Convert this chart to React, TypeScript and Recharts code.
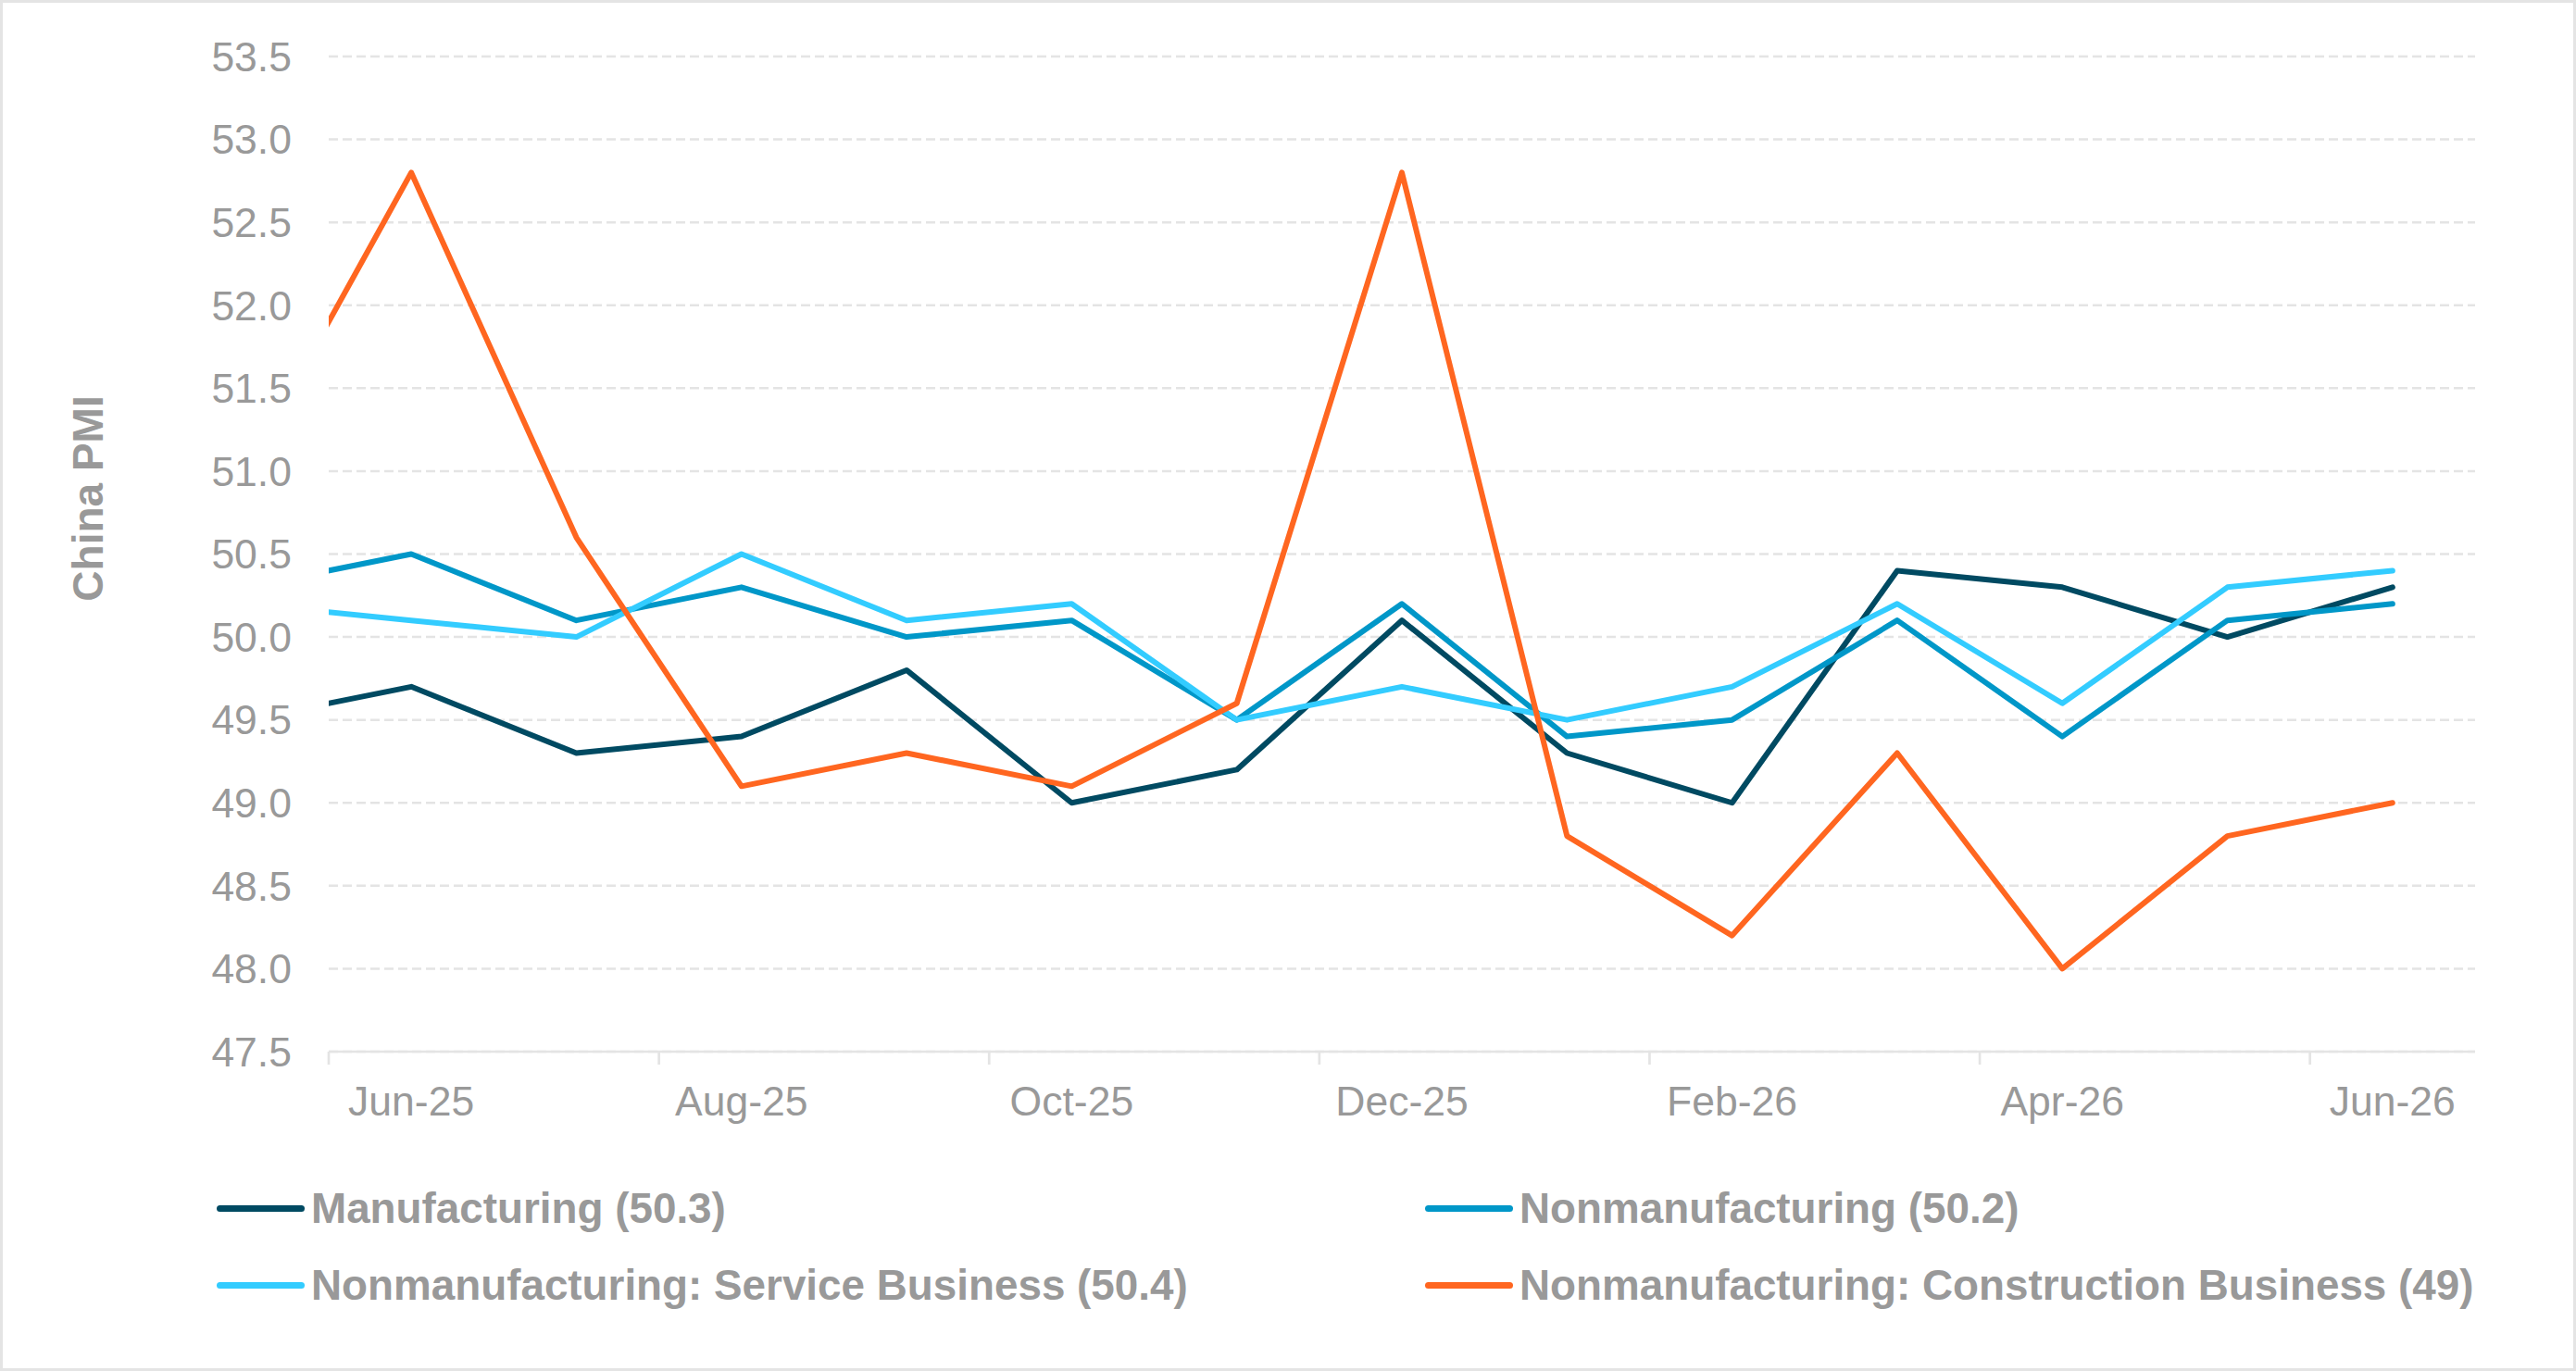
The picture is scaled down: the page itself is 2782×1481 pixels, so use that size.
import { LineChart, Line, XAxis, YAxis, CartesianGrid } from 'recharts';

// Monthly China PMI readings, May-25 .. Jun-26
const months = ['May-25', 'Jun-25', 'Jul-25', 'Aug-25', 'Sep-25', 'Oct-25', 'Nov-25', 'Dec-25', 'Jan-26', 'Feb-26', 'Mar-26', 'Apr-26', 'May-26', 'Jun-26'];
const manufacturing = [49.5, 49.7, 49.3, 49.4, 49.8, 49.0, 49.2, 50.1, 49.3, 49.0, 50.4, 50.3, 50.0, 50.3];
const nonmanufacturing = [50.3, 50.5, 50.1, 50.3, 50.0, 50.1, 49.5, 50.2, 49.4, 49.5, 50.1, 49.4, 50.1, 50.2];
const serviceBusiness = [50.2, 50.1, 50.0, 50.5, 50.1, 50.2, 49.5, 49.7, 49.5, 49.7, 50.2, 49.6, 50.3, 50.4];
const constructionBusiness = [51.0, 52.8, 50.6, 49.1, 49.3, 49.1, 49.6, 52.8, 48.8, 48.2, 49.3, 48.0, 48.8, 49.0];

const yTicks = [47.5, 48.0, 48.5, 49.0, 49.5, 50.0, 50.5, 51.0, 51.5, 52.0, 52.5, 53.0, 53.5];
// labels sit on every other month, tick marks on the boundaries between them
const labelTicks = [1, 3, 5, 7, 9, 11, 13];
const boundaryTicks = [0.5, 2.5, 4.5, 6.5, 8.5, 10.5, 12.5];

const series = [
  { key: 'mfg', name: 'Manufacturing', values: manufacturing, color: '#004A62' },
  { key: 'nonmfg', name: 'Nonmanufacturing', values: nonmanufacturing, color: '#0097C8' },
  { key: 'service', name: 'Nonmanufacturing: Service Business', values: serviceBusiness, color: '#33CCFF' },
  { key: 'construction', name: 'Nonmanufacturing: Construction Business', values: constructionBusiness, color: '#FF6620' },
];

const data = months.map((month, i) => {
  const row: Record<string, number | string> = { i, month };
  series.forEach((s) => { row[s.key] = s.values[i]; });
  return row;
});

const FONT = '"Liberation Sans", Arial, sans-serif';
const GRAY = '#999999';
const RULE = '#e4e4e4';
const TICK_LEN = 14;
const TICK_GAP = 23;

const XTick = (props: any) => {
  const { x, y, payload } = props;
  const v = payload.value as number;
  if (v % 1 !== 0) {
    return (
      <line x1={x} x2={x} y1={y - TICK_LEN - TICK_GAP} y2={y - TICK_GAP} stroke={RULE} strokeWidth={2.7} />
    );
  }
  return (
    <text x={x} y={y} dy="0.71em" textAnchor="middle" fill={GRAY} fontSize={44.5} fontFamily={FONT}>
      {months[v]}
    </text>
  );
};

const YTitle = (props: any) => {
  const { viewBox } = props;
  const x = viewBox.x + 108;
  const y = viewBox.y + viewBox.height / 2 - 60;
  return (
    <text x={x} y={y} transform={`rotate(-90, ${x}, ${y})`} textAnchor="middle" fill={GRAY} fontSize={46} fontWeight="bold" fontFamily={FONT}>
      China PMI
    </text>
  );
};

export default function App() {
  return (
    <div
      style={{
        position: 'absolute',
        top: 0,
        left: 0,
        width: 2782,
        height: 1481,
        boxSizing: 'border-box',
        border: `3px solid ${RULE}`,
        background: '#fff',
        fontFamily: FONT,
      }}
    >
      <LineChart width={2776} height={1475} data={data} margin={{ top: 58, right: 106, left: 0, bottom: 0 }}>
        <CartesianGrid vertical={false} stroke={RULE} strokeWidth={2.5} strokeDasharray="10 5" />
        <XAxis
          dataKey="i"
          type="number"
          scale="linear"
          domain={[0.5, 13.5]}
          allowDataOverflow
          ticks={[...boundaryTicks, ...labelTicks].sort((a, b) => a - b)}
          interval={0}
          tick={<XTick />}
          tickLine={false}
          tickSize={TICK_LEN}
          tickMargin={TICK_GAP}
          axisLine={{ stroke: RULE, strokeWidth: 2.7 }}
          height={342}
        />
        <YAxis
          type="number"
          domain={[47.5, 53.5]}
          ticks={yTicks}
          interval={0}
          width={352}
          axisLine={false}
          tickLine={false}
          tickSize={0}
          tickMargin={40}
          tickFormatter={(v: number) => v.toFixed(1)}
          tick={{ fill: GRAY, fontSize: 44.5, fontFamily: FONT }}
          label={<YTitle />}
        />
        {series.map((s) => (
          <Line
            key={s.key}
            type="linear"
            dataKey={s.key}
            name={s.name}
            stroke={s.color}
            strokeWidth={6}
            strokeLinecap="round"
            strokeLinejoin="round"
            dot={false}
            activeDot={false}
            isAnimationActive={false}
          />
        ))}
      </LineChart>
      <div
        style={{
          position: 'absolute',
          left: 231,
          top: 1261,
          display: 'grid',
          gridTemplateColumns: '1305px auto',
          gridAutoRows: '83px',
        }}
      >
        {series.map((s) => (
          <div key={s.key} style={{ display: 'flex', alignItems: 'center', height: 83 }}>
            <span style={{ display: 'inline-block', width: 95, height: 7, borderRadius: 4, background: s.color, marginRight: 7 }} />
            <span style={{ color: GRAY, fontSize: 45.8, fontWeight: 'bold', whiteSpace: 'nowrap', lineHeight: '83px' }}>
              {`${s.name} (${s.values[s.values.length - 1]})`}
            </span>
          </div>
        ))}
      </div>
    </div>
  );
}
